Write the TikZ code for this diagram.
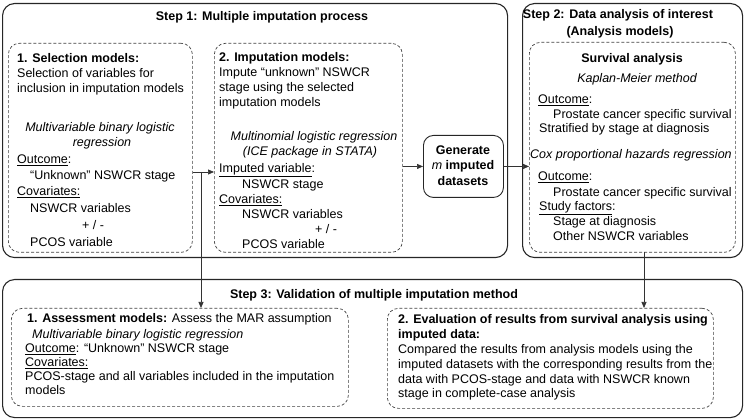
\documentclass[tikz,border=0pt]{standalone}
\usepackage{fontspec}
\setmainfont{Liberation Sans}
\usetikzlibrary{arrows.meta}
\begin{document}
\begin{tikzpicture}[x=1pt,y=-1pt,
  outerbox/.style={draw=black!85,line width=1.1pt,rounded corners=12pt,anchor=north west,inner sep=0pt},
  dashbox/.style={draw=black!75,line width=0.7pt,dash pattern=on 3pt off 2pt,rounded corners=11pt,anchor=north west,inner sep=0pt},
  genbox/.style={draw=black!85,line width=0.9pt,rounded corners=10pt,anchor=north west,inner sep=0pt},
  tl/.style={anchor=west,inner sep=0pt,font=\fontsize{12.5}{15}\selectfont,text height=9pt,text depth=2.6pt},
  tc/.style={anchor=center,inner sep=0pt,font=\fontsize{12.5}{15}\selectfont,text height=9pt,text depth=2.6pt},
  arr/.style={draw=black!80,line width=0.7pt,-{Triangle[length=6pt,width=5pt]}},
  ln/.style={draw=black!80,line width=0.7pt}]
\useasboundingbox (0,0) rectangle (744,419);
% outer boxes
\node[outerbox,minimum width=505pt,minimum height=254pt] (S1) at (2,3) {};
\node[outerbox,minimum width=220pt,minimum height=254pt] (S2) at (522,3) {};
\node[outerbox,minimum width=740pt,minimum height=138pt] (S3) at (2,279) {};
% inner boxes
\node[dashbox,minimum width=184pt,minimum height=209pt] (B1) at (8,43) {};
\node[dashbox,minimum width=188pt,minimum height=209pt] (B2) at (214,43) {};
\node[genbox,minimum width=80pt,minimum height=62pt] (G) at (423,135) {};
\node[dashbox,minimum width=206pt,minimum height=210pt] (S2d) at (529,42) {};
\node[dashbox,minimum width=337pt,minimum height=98pt] (B3) at (11,308) {};
\node[dashbox,minimum width=326pt,minimum height=100pt] (B4) at (387,308) {};
% titles
\node[tc] (t1) at (262,17) {\bfseries Step 1: Multiple imputation process};
\node[tc] (t2a) at (618,15) {\bfseries Step 2: Data analysis of interest};
\node[tc] (t2b) at (620,32) {\bfseries (Analysis models)};
\node[tc] (t3) at (374,295) {\bfseries Step 3: Validation of multiple imputation method};
% box 1
\node[tl] (b1a) at (17,59) {\bfseries 1. Selection models:};
\node[tl] (b1b) at (17,74) {Selection of variables for};
\node[tl] (b1c) at (17,89) {inclusion in imputation models};
\node[tc] (b1d) at (100,128) {\itshape Multivariable binary logistic};
\node[tc] (b1e) at (102,143) {\itshape regression};
\node[tl] (b1f) at (17,160) {\underline{Outcome}:};
\node[tl] (b1g) at (30,176) {“Unknown” NSWCR stage};
\node[tl] (b1h) at (17,192) {\underline{Covariates:}};
\node[tl] (b1i) at (30,209) {NSWCR variables};
\node[tc] (b1j) at (93,226) {+ / -};
\node[tl] (b1k) at (30,243) {PCOS variable};
% box 2
\node[tl] (b2a) at (219,58) {\bfseries 2. Imputation models:};
\node[tl] (b2b) at (219,73) {Impute “unknown” NSWCR};
\node[tl] (b2c) at (219,88) {stage using the selected};
\node[tl] (b2d) at (219,103) {imputation models};
\node[tc] (b2e) at (314,137) {\itshape Multinomial logistic regression};
\node[tc] (b2f) at (310,152) {\itshape (ICE package in STATA)};
\node[tl] (b2g) at (219,169) {\underline{Imputed variable}:};
\node[tl] (b2h) at (242,185) {NSWCR stage};
\node[tl] (b2i) at (219,200) {\underline{Covariates:}};
\node[tl] (b2j) at (242,215) {NSWCR variables};
\node[tc] (b2k) at (326,230) {+ / -};
\node[tl] (b2l) at (242,245) {PCOS variable};
% generate
\node[tc] (g1) at (463,151) {\bfseries Generate};
\node[tc] (g2) at (463,166) {\textit{m} \bfseries imputed};
\node[tc] (g3) at (463,182) {\bfseries datasets};
% step 2 inner
\node[tc] (s2a) at (632,59) {\bfseries Survival analysis};
\node[tc] (s2b) at (637,79) {\itshape Kaplan-Meier method};
\node[tl] (s2c) at (538,100) {\underline{Outcome}:};
\node[tl] (s2d) at (553,115) {Prostate cancer specific survival};
\node[tl] (s2e) at (539,129) {Stratified by stage at diagnosis};
\node[tl] (s2f) at (530,155) {\itshape Cox proportional hazards regression};
\node[tl] (s2g) at (538,177) {\underline{Outcome}:};
\node[tl] (s2h) at (553,193) {Prostate cancer specific survival};
\node[tl] (s2i) at (539,207) {\underline{Study factors}:};
\node[tl] (s2j) at (553,222) {Stage at diagnosis};
\node[tl] (s2k) at (553,237) {Other NSWCR variables};
% box 3
\node[tl] (b3a) at (27,319) {\textbf{1. Assessment models:} Assess the MAR assumption};
\node[tl] (b3b) at (32,335) {\itshape Multivariable binary logistic regression};
\node[tl] (b3c) at (25,349) {\underline{Outcome}: “Unknown” NSWCR stage};
\node[tl] (b3d) at (25,363) {\underline{Covariates:}};
\node[tl] (b3e) at (25,377) {PCOS-stage and all variables included in the imputation};
\node[tl] (b3f) at (25,391) {models};
% box 4
\node[tl] (b4a) at (398,320) {\bfseries 2. Evaluation of results from survival analysis using};
\node[tl] (b4b) at (398,335) {\bfseries imputed data:};
\node[tl] (b4c) at (398,350) {Compared the results from analysis models using the};
\node[tl] (b4d) at (398,365) {imputed datasets with the corresponding results from the};
\node[tl] (b4e) at (398,380) {data with PCOS-stage and data with NSWCR known};
\node[tl] (b4f) at (398,394) {stage in complete-case analysis};
% connectors
\coordinate (j) at (201,172);
\coordinate (k) at (644,252);
\draw[arr] (B1.east |- j) -- (B2.west |- j);
\draw[arr] (j) -- (j |- B3.north);
\draw[arr] (B2.east |- G.west) -- (G.west);
\draw[arr] (G.east) -- (G.east -| S2d.west);
\draw[arr] (k) -- (k |- B4.north);
\end{tikzpicture}
\end{document}
